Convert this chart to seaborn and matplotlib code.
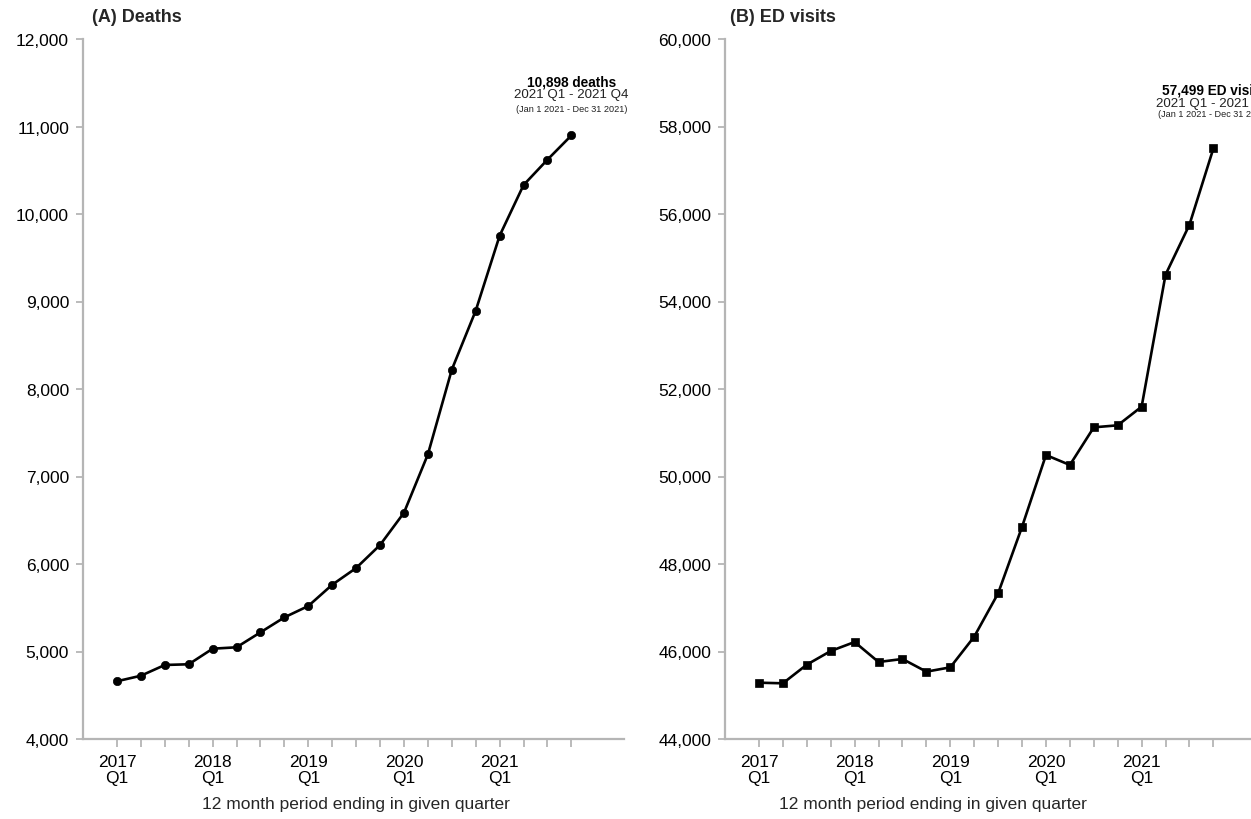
import matplotlib
matplotlib.use("Agg")
import matplotlib.pyplot as plt
from matplotlib.ticker import FuncFormatter, FixedLocator
import seaborn as sns
import pandas as pd

# Rolling 12-month totals, one value per quarter-end from 2017 Q1 to 2021 Q4
quarters = [f"{y} Q{q}" for y in range(2017, 2022) for q in range(1, 5)]
deaths = [4660, 4723, 4846, 4854, 5032, 5048, 5219, 5390, 5520, 5763,
          5954, 6217, 6586, 7253, 8221, 8895, 9752, 10331, 10621, 10898]
ed_visits = [45287, 45273, 45699, 46011, 46217, 45760, 45829, 45539, 45638, 46339,
             47330, 48850, 50491, 50263, 51124, 51170, 51596, 54613, 55756, 57499]
tick_labels = ["2017\nQ1", "2018\nQ1", "2019\nQ1", "2020\nQ1", "2021\nQ1"]
panel_titles = ["(A) Deaths", "(B) ED visits"]
x_title = "12 month period ending in given quarter"
last_labels = [
    ("10,898 deaths", "2021 Q1 - 2021 Q4", "(Jan 1 2021 - Dec 31 2021)"),
    ("57,499 ED visits", "2021 Q1 - 2021 Q4", "(Jan 1 2021 - Dec 31 2021)"),
]

df = pd.DataFrame({"quarter": quarters, "idx": range(len(quarters)),
                   "deaths": deaths, "ed": ed_visits})

sns.set_theme(style="ticks")
plt.rcParams["font.family"] = ["Liberation Sans", "DejaVu Sans"]

W, H = 1251, 820
fig = plt.figure(figsize=(W / 100, H / 100), dpi=100)
fig.patch.set_facecolor("white")

def px_axes(left, top, width, height):
    return fig.add_axes([left / W, 1 - (top + height) / H, width / W, height / H])

ax_a = px_axes(83, 40, 541, 700)
ax_b = px_axes(725, 40, 541, 700)

grey = "#b5b5b5"
specs = [
    (ax_a, "deaths", "o", 6.0, (4000, 12000), 1000, [(0, 39), (0, 29.5), (0, 19.5)], 0.505),
    (ax_b, "ed", "s", 6.3, (44000, 60000), 2000, [(0, 42.5), (0, 33), (0, 25.5)], 0.385),
]

for i, (ax, col, mk, ms, ylim, ystep, offs, xlab_pos) in enumerate(specs):
    sns.lineplot(data=df, x="idx", y=col, ax=ax, color="black", linewidth=1.9,
                 marker=mk, markersize=ms, markeredgecolor="black",
                 markeredgewidth=0.5)
    ax.set_xlim(-1.42, 21.2)
    ax.set_ylim(*ylim)
    ax.yaxis.set_major_locator(FixedLocator(list(range(ylim[0], ylim[1] + 1, ystep))))
    ax.yaxis.set_major_formatter(FuncFormatter(lambda v, p: f"{v:,.0f}"))
    ax.set_xticks(range(len(quarters)))
    ax.set_xticklabels([tick_labels[k // 4] if k % 4 == 0 else "" for k in range(len(quarters))],
                       linespacing=1.05)
    ax.set_ylabel("")
    ax.set_xlabel(x_title, fontsize=12.5)
    ax.xaxis.set_label_coords(xlab_pos, -0.081)
    for s in ("top", "right"):
        ax.spines[s].set_visible(False)
    for s in ("left", "bottom"):
        ax.spines[s].set_color(grey)
        ax.spines[s].set_linewidth(1.6)
    ax.tick_params(axis="both", colors=grey, labelcolor="black", labelsize=12.5,
                   width=1.3)
    ax.tick_params(axis="y", length=5, pad=5)
    ax.tick_params(axis="x", length=6, pad=5)
    ax.set_facecolor("white")

    # labels for the most recent 12-month period
    last_x, last_y = len(quarters) - 1, df[col].iloc[-1]
    bold, mid, small = last_labels[i]
    for txt, off, size, weight in zip((bold, mid, small), offs, (9.8, 9.6, 6.6),
                                      ("bold", "normal", "normal")):
        ax.annotate(txt, xy=(last_x, last_y), xytext=off, textcoords="offset points",
                    ha="center", va="center", fontsize=size, fontweight=weight,
                    color="black" if weight == "bold" else "#222222",
                    annotation_clip=False)

fig.text(92 / W, 1 - 18 / H, panel_titles[0], fontsize=13, fontweight="bold",
         ha="left", va="center")
fig.text(730 / W, 1 - 18 / H, panel_titles[1], fontsize=13, fontweight="bold",
         ha="left", va="center")

fig.savefig("out.png", dpi=100, facecolor="white")
